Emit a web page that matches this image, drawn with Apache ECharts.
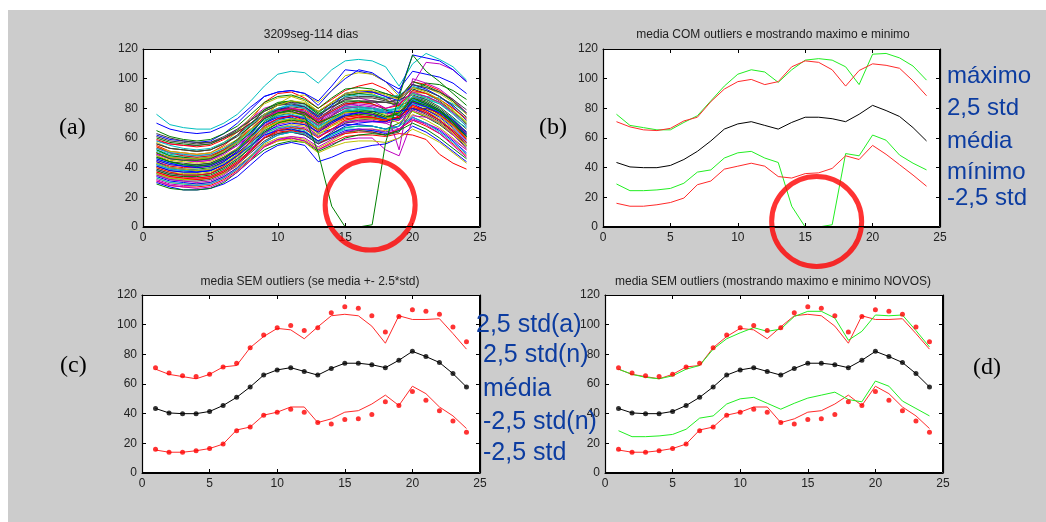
<!DOCTYPE html>
<html>
<head>
<meta charset="utf-8">
<script src="https://cdn.jsdelivr.net/npm/echarts@6/dist/echarts.min.js"></script>
<style>
html, body { margin: 0; padding: 0; background: #fff; }
#main { width: 1046px; height: 522px; }
</style>
</head>
<body>
<div id="main"></div>
<script>
// horas do dia
var horas = [1,2,3,4,5,6,7,8,9,10,11,12,13,14,15,16,17,18,19,20,21,22,23,24];

// (a) curvas diarias (114 dias, parte delas)
var dias = [
  [62,59,58,57,58,63,70,79,88,91,92,90,85,95,106,105,103,98,93,105,103,101,97,90],
  [48,44,42,42,43,47,52,60,70,76,79,77,70,75,80,81,80,77,76,88,85,80,73,64],
  [55,51,50,49,50,55,62,72,84,90,91,87,80,86,92,95,97,93,86,98,96,92,85,76],
  [76,69,67,66,66,70,76,85,95,103,105,104,97,106,112,113,112,108,95,110,117,113,108,99],
  [58,56,55,55,56,60,66,73,80,83,84,81,75,84,90,91,91,88,82,96,111,110,106,98],
  [45,42,41,41,42,46,52,62,74,83,88,89,84,92,102,104,103,98,88,96,94,90,84,76],
  [41,38,37,37,38,42,48,57,66,72,75,74,68,75,82,84,85,84,83,90,88,84,78,70],
  [70,66,64,63,64,68,73,81,88,91,92,90,82,92,100,106,104,98,90,116,114,112,106,98],
  [36,33,32,32,33,37,43,51,60,65,66,64,58,63,67,68,68,66,70,78,74,69,62,54],
  [50,47,46,45,46,51,58,68,76,80,80,76,68,72,75,75,74,71,74,84,81,76,69,61],
  [39,36,35,35,36,40,46,54,62,66,67,65,58,62,66,66,65,64,68,80,79,75,68,60],
  [53,50,49,48,49,53,59,66,73,77,78,76,71,76,81,82,81,78,80,88,84,79,72,63],
  [33,30,29,29,30,34,40,48,56,60,61,59,53,58,63,65,66,65,68,76,72,67,60,52],
  [47,44,43,42,43,47,53,61,70,75,77,76,70,80,88,90,91,90,87,93,90,85,78,69],
  [30,27,25,25,26,29,34,42,50,55,57,55,44,47,51,53,55,56,60,68,64,58,51,44],
  [60,57,56,55,56,60,65,72,79,83,85,83,77,84,89,90,89,86,80,92,97,96,92,86],
  [44,41,40,40,41,45,51,59,67,71,72,70,64,69,73,74,73,71,75,82,79,75,68,59],
  [52,49,48,47,48,52,57,63,70,74,75,73,67,73,79,80,80,78,80,85,88,87,83,77],
  [38,35,34,33,34,38,44,52,61,66,68,67,61,65,70,71,71,70,66,75,74,70,63,55],
  [57,53,52,51,52,57,64,74,83,87,88,85,78,84,90,91,90,86,81,91,90,86,80,72],
  [35,32,31,31,32,36,42,50,58,63,65,64,58,64,70,72,73,72,73,80,76,71,64,56],
  [42,39,38,37,38,42,49,58,68,73,74,71,63,66,69,69,68,66,68,83,79,74,67,58],
  [65,61,59,58,59,63,68,76,84,88,89,86,80,87,93,94,93,90,87,98,95,91,85,77],
  [31,28,27,27,28,32,38,46,54,58,60,58,52,57,61,62,62,61,63,62,59,49,43,39],
  [46,43,42,41,42,46,52,60,68,72,73,71,65,71,77,79,80,79,80,88,86,83,77,70],
  [49,46,45,44,45,50,57,66,74,78,79,77,72,80,86,87,85,80,52,100,97,93,86,77],
  [40,37,36,36,37,41,47,55,63,67,69,68,62,68,74,76,76,74,76,84,80,75,68,60],
  [56,53,52,51,52,56,61,68,75,79,81,80,74,79,84,85,85,84,86,89,86,81,74,66],
  [34,31,30,29,30,34,40,48,57,62,64,62,56,61,65,66,65,63,65,74,70,65,58,50],
  [43,40,39,39,40,44,50,57,65,70,72,71,66,71,75,76,75,73,77,85,81,76,69,61],
  [37,34,33,33,34,38,44,52,60,64,65,63,57,60,63,64,64,62,66,72,68,63,56,48],
  [51,48,47,46,47,51,57,65,74,80,83,82,76,82,88,89,89,87,89,95,92,88,82,74],
  [32,29,28,28,29,33,39,47,55,59,60,58,52,56,59,60,60,52,48,72,70,66,59,52],
  [54,51,50,49,50,54,59,66,72,76,77,75,69,74,78,79,78,76,77,81,78,73,66,57],
  [39,36,35,35,36,40,46,53,60,63,64,62,56,60,64,65,64,62,64,79,80,77,71,63],
  [46,43,41,41,42,46,53,63,73,79,82,81,74,82,90,92,91,88,85,96,93,88,81,72],
  [29,26,25,25,26,30,37,45,52,56,58,57,51,55,60,62,63,62,65,70,66,60,53,46],
  [59,56,55,54,55,59,64,70,76,79,79,77,71,74,77,77,76,74,78,84,81,76,69,60],
  [42,39,38,38,39,43,48,56,63,67,68,66,61,66,71,73,74,73,76,83,81,78,73,67],
  [50,47,46,45,46,50,55,62,69,73,75,74,69,75,80,81,80,77,75,86,83,78,71,63],
  [36,33,32,32,33,36,41,48,55,58,59,57,50,54,57,58,58,57,60,66,62,57,50,43],
  [63,60,58,57,57,60,64,70,76,79,80,78,72,78,83,84,84,84,82,85,82,78,72,64],
  [44,40,39,38,39,44,51,60,70,74,75,73,66,71,76,77,76,73,72,86,83,79,72,64],
  [52,48,47,46,47,52,59,69,79,84,85,83,76,81,85,85,83,79,75,87,84,79,71,62],
  [40,37,35,35,36,41,48,58,68,73,75,72,65,70,74,75,74,72,74,82,78,72,64,55],
  [58,55,53,52,53,57,62,69,76,80,82,80,73,77,81,81,80,77,79,86,82,77,70,61],
  [35,32,31,30,31,35,42,52,63,69,71,69,61,66,71,72,72,70,72,79,75,70,62,53],
  [48,45,44,43,44,48,53,60,67,70,71,69,63,68,72,73,73,72,79,90,87,84,78,71],
  [61,58,57,56,57,61,66,72,78,82,84,83,78,83,87,88,88,86,88,96,94,91,86,79],
  [45,42,41,40,41,45,50,57,64,68,70,69,64,70,75,77,78,77,78,80,77,72,65,57],
  [38,35,34,34,35,39,45,54,64,70,73,72,66,72,78,79,78,75,73,85,82,78,71,62],
  [54,50,48,47,48,52,58,66,74,78,80,79,73,78,83,84,83,80,82,92,90,86,80,73],
  [33,30,29,28,29,33,39,47,57,62,64,63,57,62,67,68,68,66,68,74,70,64,57,49],
  [49,46,45,44,45,49,55,64,73,78,80,78,72,77,82,83,82,80,83,91,88,84,77,68],
  [43,40,39,38,39,43,49,57,66,71,73,72,66,72,77,78,77,74,70,78,75,70,63,55],
  [56,53,52,51,52,56,62,70,78,82,83,81,75,81,86,87,87,85,84,94,92,88,82,74],
  [41,38,37,37,38,42,48,55,62,65,66,64,58,63,68,70,71,71,74,84,81,77,70,62],
  [47,44,42,41,42,46,52,61,71,77,79,77,70,74,78,78,77,74,77,87,83,78,70,61],
  [37,34,33,32,33,37,43,51,60,65,67,66,60,66,72,74,74,72,74,81,77,72,65,57],
  [53,50,49,48,49,53,58,65,72,75,76,74,68,73,78,79,79,77,81,90,87,83,76,68],
  [31,28,27,26,27,31,37,45,54,59,61,60,54,59,64,66,66,64,66,73,69,63,55,47],
  [50,47,46,46,47,51,57,66,76,82,85,84,78,84,90,92,92,89,86,94,91,86,79,70]
];
// dia com falha (outlier)
var diaOutlier = [50,46,45,45,46,50,56,64,73,77,78,75,50,14,0,0,1.5,57,88,116,105,98,90,82];
var coresMatlab = ['#0000ff', '#008000', '#ff0000', '#00bfbf', '#bf00bf', '#bfbf00', '#404040'];

// (b) COM outliers
var mediaCom = [43.5,40.5,40,40,41.5,45.5,51,58,66,69.5,71,68.5,66,70.5,74,74,73,71,76,82,78.5,74.5,67,58];
var maisStdCom = [71,67.5,65.5,65,66.5,71.5,74,84.5,93,98,99.5,96,98,108,112,111,106,95,105.5,110,109,107,98.5,88.5];
var menosStdCom = [16,14,14,15,16.5,19.5,28.5,31,39,41,43,41,34,33,36,36.5,39.5,48,45.5,55,49,42,35,27.5];
var maximoCom = [76,68.5,67,65.5,65.5,70.5,75,85,95,103,106,104.5,97.5,106,112.5,113.5,112.5,108,96,116.5,117,114,108.5,99];
var minimoCom = [29,24.5,24.5,25,26,29.5,37,38.5,46.5,50,51,46.5,43.5,14,0,0,1.5,49.5,48,62,58.5,48.5,43,38.5];

// (c) SEM outliers
var maisStdSem = [70,66.5,65,63.5,66.5,71.5,72.5,84.5,92,97.5,96.5,90.5,98.5,106,107,106,99,87.5,106,103.5,103.5,104,94,83.5];
var menosStdSem = [15.5,14,14,15,16.5,19.5,29,31,39,41,44.5,44.5,34,36.5,41,42,46.5,52.5,45.5,58.5,53.5,44.5,38.5,30];

// (d) maximo e minimo novos
var maximoSem = [70,66.5,64.5,63.5,65.5,70,72.5,83.5,90.5,94.5,98,95.5,97,105.5,109,109,104.5,89.5,95.5,106.5,106,106.5,96,85];
var minimoSem = [28.5,24.5,24.5,25,26,29.5,37,38.5,46.5,50,51,47,43,47,50.5,52.5,54.5,49.5,48,62,58.5,48.5,43.5,38.5];

function pares(v) {
    return horas.map(function (h, i) { return [h, v[i]]; });
}

var fonte = 'Liberation Sans, Arial, sans-serif';
var azul = '#0c3ca0';
var vermelho = '#ff2a2a';
var verde = '#22ee22';

var grades = [
    {left: 143, top: 49, width: 337, height: 178},
    {left: 603, top: 49, width: 337, height: 178},
    {left: 142, top: 295, width: 338, height: 178},
    {left: 605, top: 295, width: 338, height: 178}
];

var xAxes = [], yAxes = [];
grades.forEach(function (g, i) {
    var linha = {show: true, onZero: false, lineStyle: {color: '#000000', width: 1, opacity: 1}};
    var tick = {show: true, inside: true, length: 4, lineStyle: {color: '#000000', width: 1}};
    var rotulo = {color: '#222', fontSize: 12, fontFamily: fonte};
    xAxes.push({type: 'value', gridIndex: i, min: 0, max: 25, interval: 5, position: 'bottom',
        axisLine: linha, axisTick: tick, axisLabel: Object.assign({margin: 5}, rotulo), splitLine: {show: false}});
    xAxes.push({type: 'value', gridIndex: i, min: 0, max: 25, interval: 5, position: 'top',
        axisLine: linha, axisTick: tick, axisLabel: {show: false}, splitLine: {show: false}});
    yAxes.push({type: 'value', gridIndex: i, min: 0, max: 120, interval: 20, position: 'left',
        axisLine: linha, axisTick: tick, axisLabel: Object.assign({margin: 5}, rotulo), splitLine: {show: false}});
    yAxes.push({type: 'value', gridIndex: i, min: 0, max: 120, interval: 20, position: 'right',
        axisLine: linha, axisTick: tick, axisLabel: {show: false}, splitLine: {show: false}});
});

function linhaSerie(g, v, cor) {
    return {type: 'line', xAxisIndex: 2 * g, yAxisIndex: 2 * g, data: pares(v), symbol: 'none',
        lineStyle: {color: cor, width: 1}, itemStyle: {color: cor}, silent: true};
}
function pontos(g, v, cor) {
    return {type: 'scatter', xAxisIndex: 2 * g, yAxisIndex: 2 * g, data: pares(v), symbolSize: 5,
        itemStyle: {color: cor}, silent: true, z: 3};
}
function circulo(g, ponto) {
    return {type: 'scatter', xAxisIndex: 2 * g, yAxisIndex: 2 * g, data: [ponto], symbol: 'circle',
        symbolSize: 90, clip: false, z: 10, silent: true,
        itemStyle: {color: 'rgba(0,0,0,0)', borderColor: '#ff0000', borderWidth: 5}};
}
// moldura (caixa do eixo) nos limites das escalas
function moldura(g) {
    return {type: 'line', xAxisIndex: 2 * g, yAxisIndex: 2 * g, data: [], silent: true, z: 8, clip: false,
        markLine: {silent: true, symbol: 'none', animation: false, label: {show: false},
            lineStyle: {color: '#000', width: 1.2, type: 'solid'},
            data: [{xAxis: 0}, {xAxis: 25}, {yAxis: 0}, {yAxis: 120}]}};
}

var series = [];
// (a)
dias.forEach(function (d, i) {
    series.push(linhaSerie(0, d, coresMatlab[i % coresMatlab.length]));
});
series.push(linhaSerie(0, diaOutlier, '#008000'));
series.push(circulo(0, [16.85, 14.8]));
// (b)
series.push(linhaSerie(1, maximoCom, verde));
series.push(linhaSerie(1, maisStdCom, vermelho));
series.push(linhaSerie(1, mediaCom, '#000'));
series.push(linhaSerie(1, minimoCom, verde));
series.push(linhaSerie(1, menosStdCom, vermelho));
series.push(circulo(1, [15.85, 3.7]));
// (c)
series.push(linhaSerie(2, maisStdSem, vermelho));
series.push(linhaSerie(2, mediaCom, '#000'));
series.push(linhaSerie(2, menosStdSem, vermelho));
series.push(pontos(2, maisStdCom, '#ff0000'));
series.push(pontos(2, mediaCom, '#000'));
series.push(pontos(2, menosStdCom, '#ff0000'));
// (d)
series.push(linhaSerie(3, maisStdSem, vermelho));
series.push(linhaSerie(3, maximoSem, verde));
series.push(linhaSerie(3, mediaCom, '#000'));
series.push(linhaSerie(3, menosStdSem, vermelho));
series.push(linhaSerie(3, minimoSem, verde));
series.push(pontos(3, maisStdCom, '#ff0000'));
series.push(pontos(3, mediaCom, '#000'));
series.push(pontos(3, menosStdCom, '#ff0000'));
[0, 1, 2, 3].forEach(function (g) { series.push(moldura(g)); });

function titulo(texto, x, y) {
    return {text: texto, left: x, top: y, textAlign: 'center', padding: 0,
        textStyle: {fontSize: 12, fontWeight: 'normal', fontFamily: fonte, color: '#222'}};
}

function texto(t, x, y, tam, cor, familia) {
    return {type: 'text', x: x, y: y, z: 100, silent: true,
        style: {text: t, fill: cor, font: tam + 'px ' + familia,
            textVerticalAlign: 'middle', verticalAlign: 'middle'}};
}

var serif = '"Liberation Serif", "Times New Roman", serif';
var sans = '"Liberation Sans", Arial, sans-serif';

// fundo cinza do slide + areas brancas dos graficos
var graficos = [
    {type: 'rect', z: -10, silent: true, shape: {x: 8, y: 10, width: 1038, height: 512}, style: {fill: '#cccccc'}}
];
grades.forEach(function (g) {
    graficos.push({type: 'rect', z: -9, silent: true,
        shape: {x: g.left, y: g.top, width: g.width, height: g.height},
        style: {fill: '#ffffff'}});
    graficos.push({type: 'rect', z: 60, silent: true,
        shape: {x: g.left + 0.5, y: g.top + 0.5, width: g.width - 1, height: g.height - 1},
        style: {fill: 'none', stroke: '#000000', lineWidth: 1}});
});
graficos = graficos.concat([
    texto('(a)', 59, 128, 24, '#000', serif),
    texto('(b)', 539, 128, 24, '#000', serif),
    texto('(c)', 60, 366, 24, '#000', serif),
    texto('(d)', 973, 368, 24, '#000', serif),
    texto('máximo', 947, 76, 24, azul, sans),
    texto('2,5 std', 947, 108, 24, azul, sans),
    texto('média', 947, 141, 24, azul, sans),
    texto('mínimo', 947, 172, 24, azul, sans),
    texto('-2,5 std', 947, 198, 24, azul, sans),
    texto('2,5 std(a)', 476, 325, 25, azul, sans),
    texto('2,5 std(n)', 483, 355, 25, azul, sans),
    texto('média', 483, 389, 25, azul, sans),
    texto('-2,5 std(n)', 483, 422, 25, azul, sans),
    texto('-2,5 std', 483, 453, 25, azul, sans)
]);

var myChart = echarts.init(document.getElementById('main'), null, {renderer: 'canvas'});
myChart.setOption({
    animation: false,
    backgroundColor: '#ffffff',
    title: [
        titulo('3209seg-114 dias', 311, 29),
        titulo('media COM outliers e mostrando maximo e minimo', 773, 29),
        titulo('media SEM outliers (se media +- 2.5*std)', 310, 276),
        titulo('media SEM outliers (mostrando maximo e minimo NOVOS)', 773, 276)
    ],
    grid: grades.map(function (g) {
        return Object.assign({show: false}, g);
    }),
    xAxis: xAxes,
    yAxis: yAxes,
    series: series,
    graphic: graficos
});
</script>
</body>
</html>
